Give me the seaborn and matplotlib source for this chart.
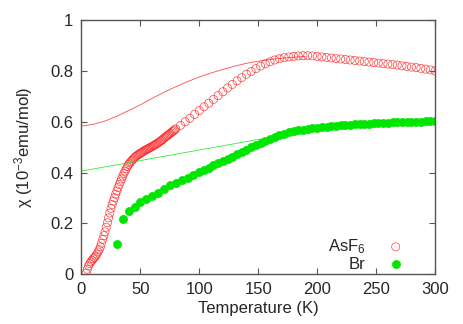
import seaborn as sns
import matplotlib.pyplot as plt
import pandas as pd
from matplotlib.ticker import MultipleLocator, FormatStrFormatter

# AsF6 data (open red circles)
asf6_T = [4, 5, 6, 7, 8, 9, 10, 11, 12, 13, 14, 15, 16, 17, 18, 19, 20, 21, 22, 23,
          24, 25, 26, 27, 28, 29, 30, 31, 32, 33, 34, 35, 36, 37, 38, 39, 40, 41, 42, 43,
          44, 45, 46, 47, 48, 49, 50, 51, 52, 53, 54, 55, 56, 57, 58, 59, 60, 61, 62, 63,
          64, 65, 66, 67, 68, 69, 70, 71, 72, 73, 74, 75, 76, 77, 78, 79, 80,
          84, 88, 92, 96, 100, 104, 108, 112, 116, 120, 124, 128, 132, 136, 140, 144, 148,
          152, 156, 160, 164, 168, 172, 176, 180, 184, 188, 192, 196, 200, 204, 208, 212,
          216, 220, 224, 228, 232, 236, 240, 244, 248, 252, 256, 260, 264, 268, 272, 276,
          280, 284, 288, 292, 296, 300]
asf6_chi = [0.005, 0.020, 0.033, 0.042, 0.049, 0.055, 0.061, 0.066, 0.072, 0.079,
            0.088, 0.097, 0.108, 0.122, 0.138, 0.152, 0.167, 0.185, 0.203, 0.222,
            0.241, 0.259, 0.274, 0.288, 0.301, 0.315, 0.328, 0.341, 0.353, 0.364,
            0.375, 0.386, 0.397, 0.406, 0.415, 0.424, 0.432, 0.438, 0.444, 0.449,
            0.454, 0.459, 0.463, 0.467, 0.470, 0.473, 0.476, 0.479, 0.482, 0.485,
            0.488, 0.490, 0.493, 0.495, 0.498, 0.500, 0.503, 0.506, 0.508, 0.511,
            0.514, 0.517, 0.520, 0.524, 0.527, 0.531, 0.535, 0.539, 0.543, 0.546,
            0.550, 0.553, 0.557, 0.561, 0.564, 0.568, 0.572,
            0.586, 0.600, 0.614, 0.629, 0.644, 0.659, 0.673, 0.688, 0.703, 0.718,
            0.733, 0.747, 0.761, 0.774, 0.787, 0.798, 0.809, 0.819, 0.828, 0.836,
            0.843, 0.848, 0.852, 0.855, 0.857, 0.859, 0.860, 0.860, 0.859, 0.857,
            0.855, 0.853, 0.851, 0.849, 0.847, 0.845, 0.843, 0.841, 0.839, 0.837,
            0.835, 0.833, 0.831, 0.829, 0.827, 0.825, 0.823, 0.820, 0.818, 0.815,
            0.813, 0.810, 0.807, 0.804, 0.800]

# Br data (filled green circles)
br_T = [30, 35, 40, 45, 50, 55, 60, 65, 70, 75, 80, 85, 90, 95, 100,
        104, 108, 112, 116, 120, 124, 128, 132, 136, 140, 144, 148, 152, 156, 160,
        164, 168, 172, 176, 180, 184, 188, 192, 196, 200, 204, 208, 212, 216, 220,
        224, 228, 232, 236, 240, 244, 248, 252, 256, 260, 264, 268, 272, 276, 280,
        284, 288, 292, 296, 300]
br_chi = [0.118, 0.218, 0.250, 0.266, 0.285, 0.296, 0.308, 0.320, 0.337, 0.350,
          0.360, 0.369, 0.379, 0.390, 0.401,
          0.410, 0.419, 0.428, 0.437, 0.446, 0.455, 0.463, 0.472, 0.481, 0.490,
          0.499, 0.508, 0.517, 0.526, 0.534, 0.541, 0.547, 0.553, 0.558, 0.562,
          0.566, 0.569, 0.572, 0.574, 0.576, 0.578, 0.580, 0.582, 0.584, 0.586,
          0.588, 0.589, 0.590, 0.591, 0.592, 0.593, 0.594, 0.595, 0.596, 0.597,
          0.598, 0.598, 0.599, 0.600, 0.600, 0.601, 0.601, 0.602, 0.602, 0.603]

# fit curves
fit_asf6_T = [0, 10, 20, 30, 40, 50, 60, 70, 80, 90, 100, 110, 120, 130, 140, 150,
              160, 170, 180, 190]
fit_asf6_chi = [0.583, 0.590, 0.603, 0.622, 0.644, 0.667, 0.692, 0.716, 0.738, 0.758,
                0.776, 0.792, 0.806, 0.819, 0.830, 0.838, 0.845, 0.850, 0.854, 0.857]
fit_br_T = [0, 170]
fit_br_chi = [0.406, 0.547]

sns.set_style("ticks")
plt.rcParams['font.family'] = ['Liberation Sans', 'DejaVu Sans']
plt.rcParams['mathtext.default'] = 'regular'

red = '#ff2020'
green = '#00e600'
frame = '#555555'

fig, ax = plt.subplots(figsize=(4.63, 3.24), dpi=100)
fig.subplots_adjust(left=0.176, right=0.9395, bottom=0.1534, top=0.938)

sns.lineplot(x=fit_asf6_T, y=fit_asf6_chi, ax=ax, color=red, lw=0.6, alpha=0.8)
sns.lineplot(x=fit_br_T, y=fit_br_chi, ax=ax, color=green, lw=0.6, alpha=0.8)

sns.scatterplot(x=asf6_T, y=asf6_chi, ax=ax, marker='o', s=34,
                facecolors='none', edgecolor=red, linewidth=0.5, alpha=0.85,
                label='AsF$_6$')
sns.scatterplot(x=br_T, y=br_chi, ax=ax, marker='o', s=34,
                color=green, edgecolor=green, linewidth=0.5, label='Br')

ax.set_xlim(0, 300)
ax.set_ylim(0, 1)
ax.xaxis.set_major_locator(MultipleLocator(50))
ax.yaxis.set_major_locator(MultipleLocator(0.2))
ax.yaxis.set_major_formatter(FormatStrFormatter('%g'))
ax.tick_params(direction='in', length=4, width=0.8, color=frame, labelsize=12,
               top=True, right=True)
ax.tick_params(axis='x', pad=5.5)
ax.tick_params(axis='y', pad=6)
for sp in ax.spines.values():
    sp.set_color(frame)
    sp.set_linewidth(1.0)

ax.set_xlabel('Temperature (K)', fontsize=12, labelpad=3)
ax.set_ylabel('χ (10$^{-3}$emu/mol)', fontsize=12, labelpad=11)

leg = ax.legend(loc='lower right', bbox_to_anchor=(0.936, 0.01), markerfirst=False,
                frameon=False, fontsize=12, handletextpad=0.8, labelspacing=0.05,
                borderpad=0, borderaxespad=0)

fig.savefig('out.png', dpi=100)
